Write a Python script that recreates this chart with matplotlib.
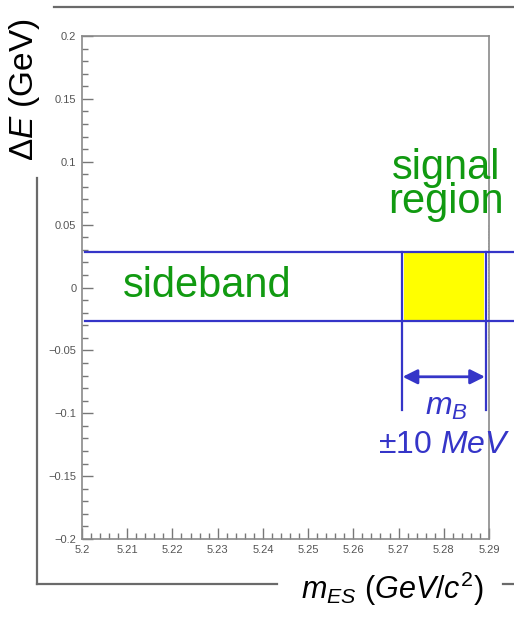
import matplotlib.pyplot as plt
from matplotlib.lines import Line2D
from matplotlib.ticker import AutoMinorLocator

plt.rcParams['font.family'] = ['Liberation Sans', 'DejaVu Sans']
plt.rcParams['mathtext.fontset'] = 'custom'
plt.rcParams['mathtext.rm'] = 'Liberation Sans'
plt.rcParams['mathtext.it'] = 'Liberation Sans:italic'

# mES / dE window
x_min, x_max = 5.2, 5.29
y_min, y_max = -0.2, 0.2
x_ticks = [5.2, 5.21, 5.22, 5.23, 5.24, 5.25, 5.26, 5.27, 5.28, 5.29]
y_ticks = [-0.2, -0.15, -0.1, -0.05, 0, 0.05, 0.1, 0.15, 0.2]

# band in dE and signal box in mES
de_band = [-0.027, 0.028]
mes_sig = [5.2707, 5.2893]
band_x = [5.2007, 5.2955]
arrow_y = -0.071
vline_bottom = -0.0974

blue = '#3535c8'
green = '#119a11'
gray = '#6a6a6a'

fig = plt.figure(figsize=(5.14, 6.17), dpi=100)
ax = fig.add_axes([82/514, 1-539/617, (489-82)/514, (539-36)/617])
ax.set_xlim(x_min, x_max)
ax.set_ylim(y_min, y_max)

ax.set_xticks(x_ticks)
ax.set_yticks(y_ticks)
ax.set_xticklabels(['%g' % v for v in x_ticks])
ax.set_yticklabels(['0' if v == 0 else ('%g' % v).replace('-', '\u2212') for v in y_ticks])
ax.xaxis.set_minor_locator(AutoMinorLocator(5))
ax.yaxis.set_minor_locator(AutoMinorLocator(5))
ax.tick_params(which='both', direction='in', top=False, right=False,
               color='#777777', labelsize=8, labelcolor='#555555', pad=4)
ax.tick_params(which='major', length=8, width=1)
ax.tick_params(which='minor', length=4, width=1)
for s in ax.spines.values():
    s.set_color('#8a8a8a')
    s.set_linewidth(1.2)

# yellow signal box
ax.fill_between([mes_sig[0] + 0.0004, mes_sig[1] - 0.0004],
                de_band[0] + 0.0008, de_band[1] - 0.0008, color='#ffff00', lw=0, zorder=2)

# sideband lines
for y in de_band:
    ax.plot(band_x, [y, y], color=blue, lw=1.6, clip_on=False, zorder=3)
for x in mes_sig:
    ax.plot([x, x], [de_band[1], vline_bottom], color=blue, lw=1.6, clip_on=False, zorder=3)

ax.plot([5.2899, 5.2899], [0.0497, -0.0513], color='black', lw=0.8, ls=':', zorder=4)

ax.annotate('', xy=(mes_sig[0] + 0.0002, arrow_y), xytext=(mes_sig[1] - 0.0002, arrow_y),
            arrowprops=dict(arrowstyle='<|-|>', color=blue, lw=2, mutation_scale=22,
                            shrinkA=0, shrinkB=0))

ax.text(5.2276, -0.0076, 'sideband', color=green, fontsize=30, ha='center', va='baseline')
ax.text(5.2804, 0.0592, 'signal\nregion', color=green, fontsize=30, ha='center',
        va='baseline', multialignment='center', linespacing=0.8)
ax.text(5.2806, -0.1014, '$m_B$', color=blue, fontsize=23, ha='center', va='baseline')
ax.text(5.2800, -0.1316, '\u00b110 $MeV$', color=blue, fontsize=23, ha='center', va='baseline')

fig.text(25/514, 1-90/617, r'$\mathit{\Delta E}$ (GeV)', rotation=90, fontsize=24,
         ha='center', va='center')
fig.text(392/514, 1-599/617, '$m_{ES}$ ($GeV/c^2$)', fontsize=22, ha='center', va='baseline')

# outer frame
for xs, ys in [([54, 514], [7, 7]), ([37, 37], [178, 584]),
               ([37, 277], [584, 584]), ([503, 514], [584, 584])]:
    fig.add_artist(Line2D([v/514 for v in xs], [1 - v/617 for v in ys],
                          color=gray, lw=1.6, transform=fig.transFigure))

plt.savefig('out.png', dpi=100)
